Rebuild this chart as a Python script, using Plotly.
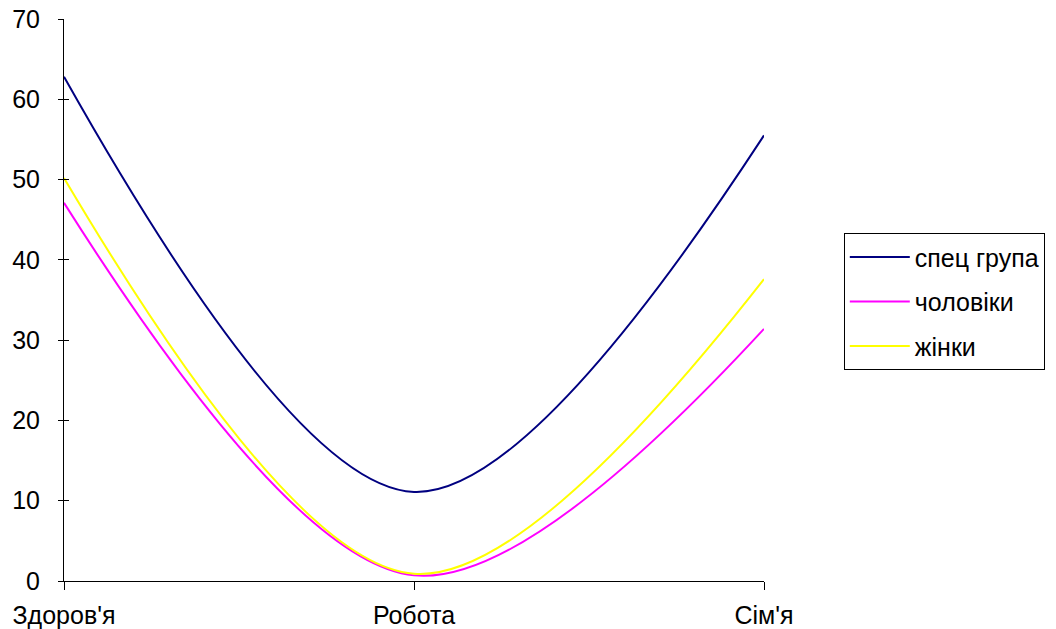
import plotly.graph_objects as go

categories = ["Здоров'я", "Робота", "Сім'я"]
spec_group = [62.8, 11.1, 55.5]
men = [47.1, 0.7, 31.4]
women = [50.2, 0.9, 37.6]
y_ticks = [0, 10, 20, 30, 40, 50, 60, 70]

series = [
    ("спец група", spec_group, "#000080"),
    ("чоловіки", men, "#FF00FF"),
    ("жінки", women, "#FFFF00"),
]

fig = go.Figure()
for i, (name, vals, color) in enumerate(series):
    fig.add_trace(go.Scatter(
        x=list(range(len(categories))), y=vals, name=name, mode="lines",
        line=dict(color=color, width=2, shape="spline", smoothing=1),
        legendgroup=f"g{i}",
    ))

font = "Liberation Sans, Arial, sans-serif"
fig.update_layout(
    width=1056, height=629,
    margin=dict(l=64, r=292, t=19, b=48, autoexpand=False),
    paper_bgcolor="white", plot_bgcolor="white",
    font=dict(family=font, color="black"),
    showlegend=True,
    legend=dict(
        x=1.114, xanchor="left", y=0.497, yanchor="middle",
        bordercolor="black", borderwidth=1, bgcolor="white",
        font=dict(size=25, family=font), tracegroupgap=9,
        traceorder="grouped", itemwidth=60,
    ),
    xaxis=dict(
        range=[0, 2], tickmode="array", tickvals=[0, 1, 2], ticktext=categories,
        showgrid=False, zeroline=False, showline=True, linecolor="black", linewidth=1,
        ticks="outside", ticklen=8, tickcolor="black", tickfont=dict(size=25, family=font),
        ticklabelstandoff=4, automargin=False,
    ),
    yaxis=dict(
        range=[0, 70], tickmode="array", tickvals=y_ticks,
        showgrid=False, zeroline=False, showline=True, linecolor="black", linewidth=1,
        ticks="outside", ticklen=5, tickcolor="black", tickfont=dict(size=25, family=font),
        ticklabelstandoff=13, automargin=False,
    ),
    yaxis2=dict(
        range=[0, 70], tickmode="array", tickvals=y_ticks, overlaying="y", anchor="x",
        side="left", showticklabels=False, showgrid=False, zeroline=False,
        ticks="inside", ticklen=5, tickwidth=1, tickcolor="black", showline=False,
        automargin=False,
    ),
)
fig.add_trace(go.Scatter(x=[0], y=[0], yaxis="y2", showlegend=False,
                         mode="markers", marker=dict(opacity=0), hoverinfo="skip"))

fig.write_html("out.html")
